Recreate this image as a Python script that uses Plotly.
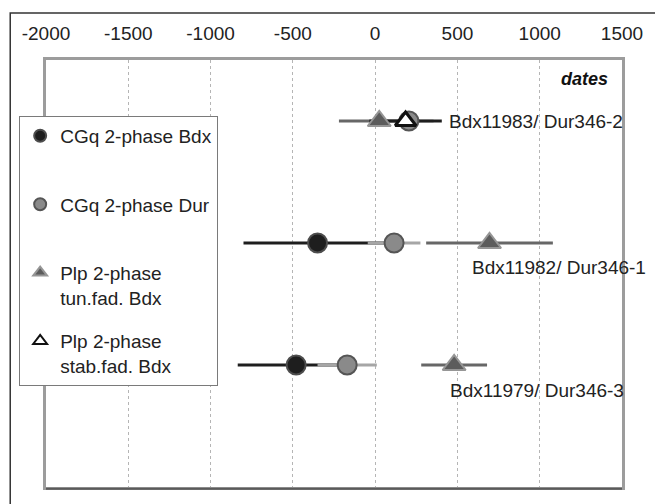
import plotly.graph_objects as go

# Sample rows (top to bottom) and their y positions
sample_labels = ["Bdx11983/ Dur346-2", "Bdx11982/ Dur346-1", "Bdx11979/ Dur346-3"]
row_pos = [3, 2, 1]

# Dates (years) and one-sigma errors per method; None = no date for that sample
cgq_bdx = [None, -350, -480]
cgq_bdx_err = [None, 450, 355]
cgq_dur = [205, 115, -170]
cgq_dur_err = [150, 160, 180]
plp_tun = [25, 695, 480]
plp_tun_err = [245, 385, 200]
plp_stab = [185, None, None]
plp_stab_err = [220, None, None]

tick_vals = [-2000, -1500, -1000, -500, 0, 500, 1000, 1500]
tick_text = ["-2000", "-1500", "-1000", "-500", "0", "500", "1000", "1500"]

# blank second line keeps every legend entry two lines tall
SPACER = "<br><span style='color:white'>.</span>"
series = [
    dict(name="CGq 2-phase Bdx" + SPACER, x=cgq_bdx, err=cgq_bdx_err, bar="#1e1e1e",
         marker=dict(symbol="circle", size=19, color="#1e1e1e",
                     line=dict(color="#4d4d4d", width=2))),
    dict(name="CGq 2-phase Dur" + SPACER, x=cgq_dur, err=cgq_dur_err, bar="#a6a6a6",
         marker=dict(symbol="circle", size=19, color="#8a8a8a",
                     line=dict(color="#555555", width=2))),
    dict(name="Plp 2-phase<br>tun.fad. Bdx", x=plp_tun, err=plp_tun_err, bar="#676767",
         marker=dict(symbol="triangle-up", size=20, color="#5c5c5c",
                     line=dict(color="#969696", width=2))),
    dict(name="Plp 2-phase<br>stab.fad. Bdx", x=plp_stab, err=plp_stab_err, bar="#1e1e1e",
         marker=dict(symbol="triangle-up", size=18, color="#ffffff",
                     line=dict(color="#111111", width=3))),
]

fig = go.Figure()

# error bars of all series first, so every marker sits on top of the lines
for s in series:
    fig.add_trace(go.Scatter(
        x=s["x"], y=row_pos, mode="markers",
        marker=dict(size=1, opacity=0),
        error_x=dict(type="data", array=s["err"], visible=True,
                     color=s["bar"], thickness=3, width=0),
        showlegend=False, hoverinfo="skip",
    ))

for i, s in enumerate(series):
    fig.add_trace(go.Scatter(
        x=s["x"], y=row_pos, mode="markers", name=s["name"],
        legendgroup=f"method{i}",
        marker=s["marker"],
    ))

# sample labels next to each row
label_font = dict(family="Liberation Sans, Arial, sans-serif", size=19, color="#222222")
label_x = [438, 577, 442]
label_y = [3, 1.8, 0.79]
for txt, lx, ly in zip(sample_labels, label_x, label_y):
    fig.add_annotation(x=lx, y=ly, xref="x", yref="y", text=txt, showarrow=False,
                       xanchor="left", yanchor="middle", font=label_font)

fig.add_annotation(x=0.98, y=0.955, xref="paper", yref="paper",
                   text="<b><i>dates</i></b>", showarrow=False,
                   xanchor="right", yanchor="middle",
                   font=dict(family="Liberation Sans, Arial, sans-serif", size=18, color="#111111"))

fig.update_layout(
    width=655, height=504,
    margin=dict(l=46, r=29, t=60, b=17),
    paper_bgcolor="white", plot_bgcolor="white",
    font=dict(family="Liberation Sans, Arial, sans-serif", color="#222222"),
    xaxis=dict(
        range=[-2000, 1500], side="top",
        tickvals=tick_vals, ticktext=tick_text,
        tickfont=dict(size=19, color="#222222"),
        ticks="", ticklabelstandoff=9,
        showgrid=True, gridcolor="#b5b5b5", griddash="dot", gridwidth=1,
        zeroline=False,
        showline=True, mirror=True, linecolor="#9c9c9c", linewidth=3,
    ),
    yaxis=dict(
        range=[0, 3.5], showticklabels=False, ticks="",
        showgrid=False, zeroline=False,
        showline=True, mirror=True, linecolor="#9c9c9c", linewidth=3,
    ),
    legend=dict(
        x=-0.0466, y=0.869, xanchor="left", yanchor="top",
        bgcolor="white", bordercolor="#7a7a7a", borderwidth=1,
        font=dict(family="Liberation Sans, Arial, sans-serif", size=19, color="#222222"),
        itemsizing="constant", valign="top",
        traceorder="grouped", tracegroupgap=16,
    ),
    shapes=[
        # outer chart frame (left and top edges visible)
        dict(type="rect", xref="paper", yref="paper",
             x0=-0.0621, x1=1.3, y0=-0.3, y1=1.110,
             line=dict(color="#333333", width=1.5), layer="below"),
        # darker shadow along the bottom of the plot frame
        dict(type="line", xref="paper", yref="paper", x0=0, x1=1, y0=-0.004, y1=-0.004,
             line=dict(color="#5a5a5a", width=2)),
    ],
)

fig.write_html("out.html")
